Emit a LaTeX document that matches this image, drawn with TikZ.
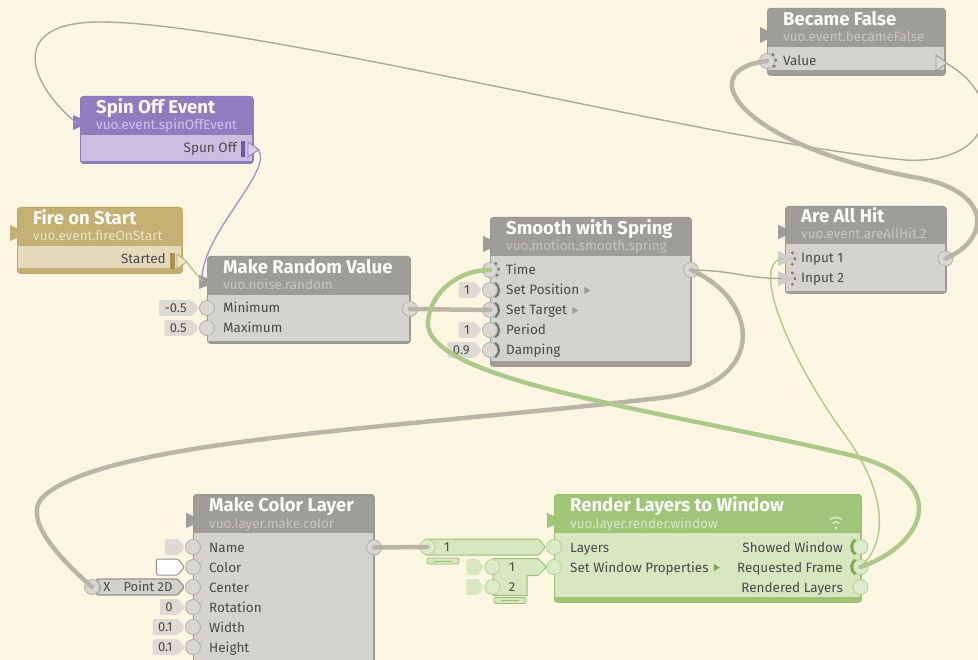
\documentclass[tikz,border=0pt]{standalone}
\usepackage{fontspec}
\setmainfont{Fira Sans}
\usepackage{tikz}
\usetikzlibrary{shapes,positioning}

\definecolor{bgcream}{HTML}{FDF6E3}
\definecolor{grayhead}{HTML}{9F9D97}
\definecolor{graybody}{HTML}{D5D3CD}
\definecolor{grayline}{HTML}{9A9892}
\definecolor{graysub}{HTML}{C9C7C0}
\definecolor{purphead}{HTML}{8F7DC0}
\definecolor{purpbody}{HTML}{C9C0E1}
\definecolor{purpline}{HTML}{8A78BA}
\definecolor{purpsub}{HTML}{CDC4EA}
\definecolor{purpdark}{HTML}{6E5BA8}
\definecolor{purpport}{HTML}{D8D0EE}
\definecolor{tanhead}{HTML}{C4B072}
\definecolor{tanbody}{HTML}{E6DCBD}
\definecolor{tanline}{HTML}{BCA866}
\definecolor{tansub}{HTML}{ECE3C6}
\definecolor{tandark}{HTML}{A8924E}
\definecolor{tanport}{HTML}{EEE6CC}
\definecolor{greenhead}{HTML}{A1C578}
\definecolor{greenbody}{HTML}{D6E7C2}
\definecolor{greenline}{HTML}{9BC070}
\definecolor{greensub}{HTML}{D9E9C6}
\definecolor{greendark}{HTML}{76AA4A}
\definecolor{titletext}{HTML}{FBFBF8}
\definecolor{labtext}{HTML}{4B4A47}
\definecolor{portfill}{HTML}{DAD8D2}
\definecolor{portline}{HTML}{B1AFA8}
\definecolor{gportfill}{HTML}{DCEBCB}
\definecolor{gportline}{HTML}{B3D193}
\definecolor{flagfill}{HTML}{DEDBD2}
\definecolor{doorgray}{HTML}{74726C}
\definecolor{evgray}{HTML}{D0CEC7}
\definecolor{cablegray}{HTML}{B9B6A8}
\definecolor{cablegreen}{HTML}{AEC98C}
\definecolor{cablepurp}{HTML}{A597C8}
\definecolor{cabletan}{HTML}{CDBD8A}
\definecolor{thingray}{HTML}{ABA89C}
\definecolor{ptline}{HTML}{96948E}
\definecolor{ptfill}{HTML}{D3D1CB}

\begin{document}
\begin{tikzpicture}[x=1pt, y=-1pt,
    vnode/.style={rectangle, rounded corners=3, line width=0.8, anchor=north west, inner sep=0},
    title/.style={anchor=base west, inner sep=0, text=titletext, font=\fontsize{18.5}{18.5}\selectfont\bfseries},
    class/.style={anchor=base west, inner sep=0, font=\fontsize{13.5}{13.5}\selectfont},
    lbl/.style={anchor=base west, inner sep=0, text=labtext, font=\fontsize{13.5}{13.5}\selectfont},
    rlbl/.style={lbl, anchor=base east},
    small/.style={text=labtext, font=\fontsize{13}{13}\selectfont, inner sep=0},
    dport/.style={circle, minimum size=15, inner sep=0, line width=0.8, fill=portfill, draw=portline},
    gport/.style={dport, fill=gportfill, draw=gportline},
    flag/.style={signal, signal to=east, signal pointer angle=100, inner xsep=5.5, inner ysep=0,
      minimum height=16, fill=flagfill, text=labtext, font=\fontsize{13}{13}\selectfont, rounded corners=1.5},
    grip/.style={rectangle, rounded corners=1.5, minimum width=32, minimum height=6, inner sep=0,
      fill=greenbody, draw=greenline, line width=0.8},
    door/.style={line width=2, doorgray},
    evdoor/.style={door, dash pattern=on 2.5pt off 4pt},
    trig/.style={line width=2.6, greendark},
    cable/.style={line width=4.5, cablegray, line cap=round},
    wire/.style={line width=1.4, line cap=round}
  ]
\useasboundingbox (0,0) rectangle (978,660);
\fill[bgcream] (0,0) rectangle (978,660);

% Became False
\node[vnode, fill=grayhead, draw=grayline, minimum width=178, minimum height=67] (bf) at (767,8) {};
\fill[graybody] (767.8,47) rectangle (944.2,70);
\fill[grayhead] (760,27) -- (776,35) -- (760,43) -- cycle;
\coordinate (bfRef) at (762,35);
\node[title] (bfName) at (783,25.5) {Became False};
\node[class, text=graysub] (bfClass) at (783,42) {vuo.event.becameFalse};
\node[dport] (bfVal) at (767,61) {};
\draw[evdoor] (bfVal.center) ++(-55:9) arc[start angle=-55, end angle=55, radius=9];
\node[lbl] (bfValL) at (783,66) {Value};
\filldraw[fill=portfill, draw=grayline, line width=0.8] (936,55) -- (947,63) -- (936,71) -- cycle;
\coordinate (bfOut) at (946,63);

% Spin Off Event
\node[vnode, fill=purphead, draw=purpline, minimum width=173, minimum height=67] (so) at (80,96) {};
\fill[purpbody] (80.8,135) rectangle (252.2,161.5);
\fill[purphead] (73,115) -- (90,122.5) -- (73,130) -- cycle;
\coordinate (soRef) at (76,122.5);
\node[title] (soName) at (96,113.5) {Spin Off Event};
\node[class, text=purpsub] (soClass) at (96,130) {vuo.event.spinOffEvent};
\node[rlbl] (soOutL) at (237,153) {Spun Off};
\fill[purpdark] (241,141) rectangle (245,157);
\filldraw[fill=purpport, draw=purpline, line width=0.8] (248,142) -- (259,149.5) -- (248,157) -- cycle;
\coordinate (soOut) at (258,149.5);

% Fire on Start
\node[vnode, fill=tanhead, draw=tanline, minimum width=165, minimum height=66] (fs) at (17,207) {};
\fill[tanbody] (17.8,246) rectangle (181.2,268.5);
\fill[tanhead] (10,225) -- (28,233) -- (10,241) -- cycle;
\node[title] (fsName) at (33,224.5) {Fire on Start};
\node[class, text=tansub] (fsClass) at (33,241) {vuo.event.fireOnStart};
\node[rlbl] (fsOutL) at (166,264) {Started};
\fill[tandark] (170,253) rectangle (175,269);
\filldraw[fill=tanport, draw=tanline, line width=0.8] (177,254) -- (187,261.5) -- (177,269) -- cycle;
\coordinate (fsOut) at (186,261.5);

% Make Random Value
\node[vnode, fill=grayhead, draw=grayline, minimum width=203, minimum height=87] (rv) at (207,256) {};
\fill[graybody] (207.8,295) rectangle (409.2,341.5);
\fill[grayhead] (199,275) -- (217,282) -- (199,289) -- cycle;
\coordinate (rvRef) at (202,281);
\node[title] (rvName) at (223,273.5) {Make Random Value};
\node[class, text=graysub] (rvClass) at (223,290) {vuo.noise.random};
\node[dport] (rvMin) at (207,308) {};
\node[dport] (rvMax) at (207,328) {};
\node[flag, left=0pt of rvMin] (rvMinV) {-0.5};
\node[flag, left=0pt of rvMax] (rvMaxV) {0.5};
\node[lbl] (rvMinL) at (223,313) {Minimum};
\node[lbl] (rvMaxL) at (223,333) {Maximum};
\node[dport] (rvOut) at (410,309) {};

% Smooth with Spring
\node[vnode, fill=grayhead, draw=grayline, minimum width=201, minimum height=149] (ss) at (490,217) {};
\fill[graybody] (490.8,256) rectangle (690.2,361);
\fill[grayhead] (483,236) -- (500,244) -- (483,252) -- cycle;
\node[title] (ssName) at (506,234.5) {Smooth with Spring};
\node[class, text=graysub] (ssClass) at (506,251) {vuo.motion.smooth.spring};
\node[dport] (ssTime) at (490,270) {};
\node[dport] (ssPos) at (490,290) {};
\node[dport] (ssTgt) at (490,310) {};
\node[dport] (ssPer) at (490,330) {};
\node[dport] (ssDamp) at (490,350) {};
\draw[evdoor] (ssTime.center) ++(-55:9) arc[start angle=-55, end angle=55, radius=9];
\draw[door] (ssPos.center) ++(-55:9) arc[start angle=-55, end angle=55, radius=9];
\draw[door] (ssTgt.center) ++(-55:9) arc[start angle=-55, end angle=55, radius=9];
\draw[door] (ssPer.center) ++(-55:9) arc[start angle=-55, end angle=55, radius=9];
\draw[door] (ssDamp.center) ++(-55:9) arc[start angle=-55, end angle=55, radius=9];
\node[flag, left=0pt of ssPos] (ssPosV) {1};
\node[flag, left=0pt of ssPer] (ssPerV) {1};
\node[flag, left=0pt of ssDamp] (ssDampV) {0.9};
\node[lbl] (ssTimeL) at (506,275) {Time};
\node[lbl] (ssPosL) at (506,295) {Set Position};
\node[lbl] (ssTgtL) at (506,315) {Set Target};
\node[lbl] (ssPerL) at (506,335) {Period};
\node[lbl] (ssDampL) at (506,355) {Damping};
\fill[doorgray!70] (ssPosL.base east) ++(5,-8) -- ++(6,3.5) -- ++(-6,3.5) -- cycle;
\fill[doorgray!70] (ssTgtL.base east) ++(5,-8) -- ++(6,3.5) -- ++(-6,3.5) -- cycle;
\node[dport] (ssOut) at (691,270) {};

% Are All Hit
\node[vnode, fill=grayhead, draw=grayline, minimum width=161, minimum height=87] (ah) at (785,206) {};
\fill[graybody] (785.8,244) rectangle (945.2,291.5);
\fill[grayhead] (778,225) -- (795,232) -- (778,239) -- cycle;
\node[title] (ahName) at (801,222.5) {Are All Hit};
\node[class, text=graysub] (ahClass) at (801,239) {vuo.event.areAllHit.2};
\fill[evgray] (778,251) -- (795,258.5) -- (778,266) -- cycle;
\fill[evgray] (778,271) -- (795,278.5) -- (778,286) -- cycle;
\coordinate (ahIn1) at (782,258.5);
\coordinate (ahIn2) at (782,278.5);
\draw[evdoor] (787,258.5) ++(-55:8) arc[start angle=-55, end angle=55, radius=8];
\draw[evdoor] (787,278.5) ++(-55:8) arc[start angle=-55, end angle=55, radius=8];
\node[lbl] (ahIn1L) at (801,263) {Input 1};
\node[lbl] (ahIn2L) at (801,283) {Input 2};
\node[dport] (ahOut) at (945.5,258.5) {};

% Make Color Layer
\node[vnode, fill=grayhead, draw=grayline, minimum width=181, minimum height=190] (mc) at (193,494) {};
\fill[graybody] (193.8,533) rectangle (373.2,683);
\fill[grayhead] (186,513) -- (204,520.5) -- (186,528) -- cycle;
\node[title] (mcName) at (209,511.5) {Make Color Layer};
\node[class, text=graysub] (mcClass) at (209,528) {vuo.layer.make.color};
\node[dport] (mcNameP) at (193,547) {};
\node[dport] (mcColor) at (193,567) {};
\node[dport] (mcCenter) at (193,587) {};
\node[dport] (mcRot) at (193,607) {};
\node[dport] (mcWidth) at (193,627) {};
\node[dport] (mcHeight) at (193,647) {};
\node[flag, minimum width=20, left=0pt of mcNameP] (mcNameV) {};
\node[flag, minimum width=28, fill=white, draw=ptline, line width=1, left=0pt of mcColor] (mcColorV) {};
\node[flag, minimum width=88, fill=ptfill, draw=ptline, line width=1.3, left=0pt of mcCenter] (ptBox) {};
\node[dport] (ptX) at (92,587) {};
\draw[doorgray!60, line width=1] (ptX.center) ++(-55:8.5) arc[start angle=-55, end angle=55, radius=8.5];
\node[small] (ptXL) at (107,587) {X};
\node[small] (ptL) at (148,587) {Point 2D};
\node[flag, left=0pt of mcRot] (mcRotV) {0};
\node[flag, left=0pt of mcWidth] (mcWidthV) {0.1};
\node[flag, left=0pt of mcHeight] (mcHeightV) {0.1};
\node[lbl] (mcNameL) at (209,552) {Name};
\node[lbl] (mcColorL) at (209,572) {Color};
\node[lbl] (mcCenterL) at (209,592) {Center};
\node[lbl] (mcRotL) at (209,612) {Rotation};
\node[lbl] (mcWidthL) at (209,632) {Width};
\node[lbl] (mcHeightL) at (209,652) {Height};
\node[dport] (mcOut) at (374,547.5) {};

% Render Layers to Window
\node[vnode, fill=greenhead, draw=greenline, minimum width=307, minimum height=108] (rl) at (554,494) {};
\fill[greenbody] (554.8,533) rectangle (860.2,597);
\fill[greenhead] (547,513) -- (565,520.5) -- (547,528) -- cycle;
\node[title] (rlName) at (570,511.5) {Render Layers to Window};
\node[class, text=greensub] (rlClass) at (570,528) {vuo.layer.render.window};
\fill[greensub] (836,528) circle[radius=1.6];
\draw[greensub, line width=1.6] (836,528) ++(235:6) arc[start angle=235, end angle=305, radius=6];
\draw[greensub, line width=1.6] (836,528) ++(235:10.5) arc[start angle=235, end angle=305, radius=10.5];
\node[gport] (rlLayers) at (554,547) {};
\node[gport] (rlProps) at (554,567) {};
\node[lbl] (rlLayersL) at (570,552) {Layers};
\node[lbl] (rlPropsL) at (570,572) {Set Window Properties};
\fill[greendark] (rlPropsL.base east) ++(5,-8) -- ++(6,3.5) -- ++(-6,3.5) -- cycle;
\node[gport] (rlShowed) at (860.5,547) {};
\node[gport] (rlFrame) at (860.5,567) {};
\node[gport] (rlRendered) at (860.5,587) {};
\draw[trig] (rlShowed.center) ++(125:9) arc[start angle=125, end angle=235, radius=9];
\draw[trig] (rlFrame.center) ++(125:9) arc[start angle=125, end angle=235, radius=9];
\node[rlbl] (rlShowedL) at (843,552) {Showed Window};
\node[rlbl] (rlFrameL) at (843,572) {Requested Frame};
\node[rlbl] (rlRenderedL) at (843,592) {Rendered Layers};

% layer list drawer
\node[flag, minimum width=121, fill=greenbody, draw=greenline, line width=1, left=0pt of rlLayers] (ldBox) {};
\node[gport] (ldIn) at (427.5,547) {};
\node[small] (ldOne) at (447,547) {1};
\node[grip] (ldGrip) at (443,561) {};
\draw[greenline] (ldGrip.west) ++(7,0) -- ++(18,0);

% window properties drawer
\filldraw[fill=greenbody, draw=greenline, line width=1] (493,558.5) -- (538,558.5) -- (546.5,567) -- (538,575.5)
  -- (527,575.5) -- (527,595.5) -- (493,595.5) -- cycle;
\node[gport] (pdOne) at (492.5,567) {};
\node[gport] (pdTwo) at (492.5,587) {};
\node[flag, minimum width=18, fill=greenbody, left=0pt of pdOne] (pdOneV) {};
\node[flag, minimum width=18, fill=greenbody, left=0pt of pdTwo] (pdTwoV) {};
\node[small] (pdOneL) at (512,567) {1};
\node[small] (pdTwoL) at (512,587) {2};
\node[grip] (pdGrip) at (510,600.5) {};
\draw[greenline] (pdGrip.west) ++(7,0) -- ++(18,0);

% cables
\draw[wire, thingray] (bfOut) .. controls (1010,100) and (990,165) .. (905,160)
  .. controls (700,140) and (250,22) .. (100,22) .. controls (5,22) and (30,85) .. (soRef);
\draw[cable] (ahOut.center) .. controls (990,240) and (995,190) .. (913,177)
  .. controls (740,145) and (690,70) .. (bfVal.center);
\draw[wire, thingray] (ssOut.center) .. controls (740,271) and (740,278) .. (ahIn2);
\draw[cable] (ssOut.center) .. controls (760,300) and (770,385) .. (660,398)
  .. controls (400,428) and (110,440) .. (45,495) .. controls (22,514) and (50,550) .. (ptX.center);
\draw[cable] (rvOut.center) -- (ssTgt.center);
\draw[cable] (mcOut.center) -- (ldIn.center);
\draw[cable, cablegreen] (rlFrame.center) .. controls (925,545) and (955,480) .. (850,455)
  .. controls (656,409) and (420,380) .. (428,320) .. controls (432,290) and (460,270) .. (ssTime.center);
\draw[wire, cablegreen] (rlFrame.center) .. controls (890,540) and (885,490) .. (845,435)
  .. controls (790,360) and (750,265) .. (ahIn1);
\draw[wire, cablepurp] (soOut) .. controls (275,170) and (200,235) .. (rvRef);
\draw[wire, cabletan] (fsOut) -- (rvRef);
\end{tikzpicture}
\end{document}
